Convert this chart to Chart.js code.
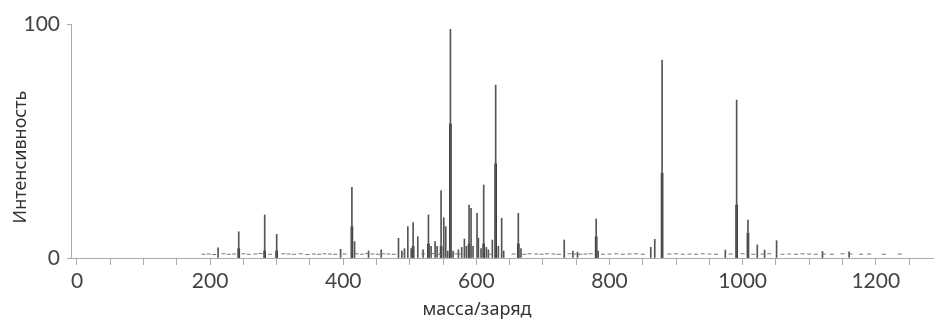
<!DOCTYPE html>
<html>
<head>
<meta charset="utf-8">
<script src="https://cdn.jsdelivr.net/npm/chart.js@4/dist/chart.umd.min.js"></script>
<style>
  html, body { margin: 0; padding: 0; background: #fff; }
  #spectrum { display: block; }
</style>
</head>
<body>
<canvas id="spectrum" width="938" height="320"></canvas>
<script>
// peak positions (m/z) and relative intensity, %
const peakMz = [212, 243, 282, 300, 396, 413, 417, 438, 457, 483, 488, 492, 497, 502, 505, 512, 520, 528, 532, 538,
  541, 547, 551, 554, 557, 561, 565, 573, 578, 582, 585, 589, 592, 595, 601, 603, 607, 611, 615, 618,
  624, 629, 633, 638, 641, 663, 667, 732, 745, 752, 780, 783, 862, 868, 879, 974, 991, 1008, 1022, 1033,
  1051, 1120, 1160];
const peakInt = [4.3, 11.2, 18.4, 10.1, 3.7, 30.2, 7, 3, 3.5, 8.4, 3, 4, 13.4, 4, 15.1, 9.1, 3.5, 18.4, 5, 7,
  5, 28.8, 17.2, 13.4, 3, 97.7, 3, 3.5, 4.5, 8.1, 5, 22.6, 21.2, 5, 19.1, 8.5, 4, 31.2, 4.5, 3.5,
  7.7, 73.9, 5, 17, 3, 19.1, 4, 7.7, 3, 2.5, 16.7, 3, 4.6, 8, 84.6, 3.4, 67.5, 16.2, 5.6, 3.4,
  7.4, 2.8, 2.6];

// overlapping isotope peaks, drawn darker under the main sticks
const coreMz = [243, 282, 300, 413, 505, 528, 547, 561, 589, 611, 629, 663, 780, 879, 991, 1008];
const coreInt = [4, 3, 3, 13.4, 5, 6, 5, 57.3, 6, 6, 40.2, 6, 9.1, 36.2, 22.6, 10.6];

// baseline noise
const noiseMz = [190, 198, 206, 220, 228, 236, 250, 258, 268, 276, 290, 310, 318, 326, 336, 346, 356, 364, 372, 380,
  388, 402, 420, 428, 436, 444, 452, 460, 468, 476, 490, 520, 534, 544, 570, 576, 620, 656, 672, 680,
  690, 698, 706, 716, 724, 740, 748, 756, 764, 772, 790, 800, 810, 820, 830, 840, 850, 890, 900, 910,
  920, 930, 940, 950, 960, 982, 1000, 1016, 1030, 1040, 1060, 1070, 1080, 1090, 1100, 1110, 1122, 1134, 1150, 1162,
  1178, 1190, 1212, 1236];
const noiseLevel = [1.6, 1.7, 1.5, 1.8, 1.6, 1.7, 1.8, 1.6, 1.7, 1.9, 1.6, 1.8, 1.7, 1.6, 1.8, 1.5, 1.7, 1.6, 1.8, 1.7,
  1.6, 1.7, 1.8, 1.6, 1.9, 1.7, 1.6, 1.8, 1.7, 1.6, 1.8, 1.7, 1.9, 1.6, 1.8, 1.7, 1.6, 1.7, 1.6, 1.8,
  1.7, 1.6, 1.8, 1.7, 1.6, 1.8, 1.7, 1.6, 1.7, 1.8, 1.6, 1.7, 1.8, 1.6, 1.7, 1.8, 1.6, 1.7, 1.8, 1.6,
  1.7, 1.6, 1.8, 1.7, 1.6, 1.7, 1.8, 1.6, 1.7, 1.8, 1.6, 1.7, 1.6, 1.8, 1.7, 1.6, 1.7, 1.6, 1.8, 1.7,
  1.6, 1.7, 1.6, 1.7];

const yTicks = [0, 100];
const xLabelStep = 200;

const toPoints = (xs, ys) => xs.map((x, i) => ({ x: x, y: ys[i] }));

// axis titles sit off-centre, so they are drawn by hand
const axisTitles = {
  id: 'axisTitles',
  afterDraw(chart) {
    const ctx = chart.ctx;
    ctx.save();
    ctx.fillStyle = '#333';
    ctx.font = '18px "Noto Sans"';
    ctx.textAlign = 'center';
    ctx.textBaseline = 'middle';
    ctx.fillText('масса/заряд', 477, 310);
    ctx.translate(21, 157);
    ctx.rotate(-Math.PI / 2);
    ctx.fillText('Интенсивность', 0, 0);
    ctx.restore();
  }
};

new Chart(document.getElementById('spectrum'), {
  type: 'bar',
  data: {
    datasets: [
      {
        type: 'line',
        data: toPoints(noiseMz, noiseLevel),
        showLine: false,
        pointStyle: 'line',
        pointRadius: 2,
        borderColor: '#777',
        borderWidth: 1
      },
      {
        data: toPoints(peakMz, peakInt),
        backgroundColor: '#555',
        barThickness: 1,
        grouped: false
      },
      {
        data: toPoints(coreMz, coreInt),
        backgroundColor: '#2a2a2a',
        barThickness: 2,
        grouped: false
      }
    ]
  },
  options: {
    responsive: false,
    animation: false,
    devicePixelRatio: 1,
    layout: { padding: { top: 24, left: 0, right: 0, bottom: 0 } },
    plugins: {
      legend: { display: false },
      tooltip: { enabled: false }
    },
    scales: {
      x: {
        type: 'linear',
        min: -9,
        max: 1286,
        offset: false,
        afterFit: (scale) => { scale.height = 62; },
        grid: { drawOnChartArea: false, offset: false, tickLength: 7, tickColor: '#aaa' },
        border: { color: '#aaa' },
        ticks: {
          stepSize: 50,
          includeBounds: false,
          autoSkip: false,
          maxRotation: 0,
          padding: 4,
          color: '#444',
          font: { family: 'Lato', size: 21 },
          callback: (v) => (v % xLabelStep === 0 ? String(v) : '')
        }
      },
      y: {
        min: 0,
        max: 100,
        afterFit: (scale) => { scale.width = 71; },
        afterBuildTicks: (scale) => { scale.ticks = yTicks.map(v => ({ value: v })); },
        grid: { drawOnChartArea: false, tickLength: 4, tickColor: '#aaa' },
        border: { color: '#aaa' },
        ticks: {
          padding: 7,
          color: '#444',
          font: { family: 'Lato', size: 21 }
        }
      }
    }
  },
  plugins: [axisTitles]
});
</script>
</body>
</html>
